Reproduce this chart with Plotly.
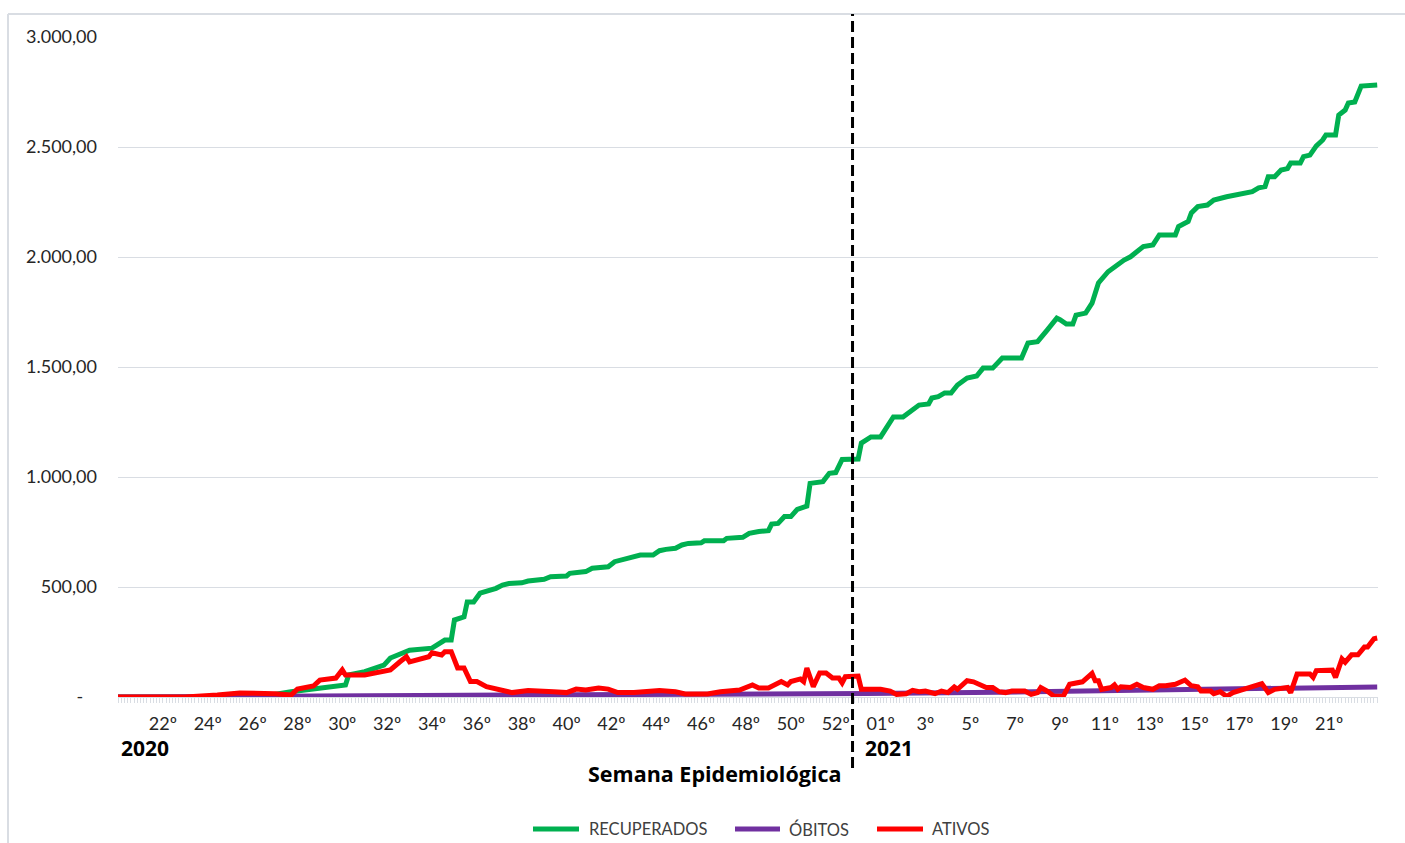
import pandas as pd
import plotly.graph_objects as go

# ---------------- data ----------------
inicio = "2020-05-10"  # first day of the series

dia_recuperados = [0, 44, 54, 62, 71, 72, 77, 83, 85, 91, 98, 102, 104, 105, 108, 109, 111, 113,
                   118, 120, 122, 126, 128, 133, 135, 140, 141, 146, 148, 153, 155, 159, 162, 163, 167, 169,
                   171, 174, 176, 178, 182, 183, 189, 190, 195, 197, 200, 203, 204, 206, 208, 210, 212, 215,
                   216, 220, 222, 224, 226, 231, 232, 235, 238, 240, 242, 245, 248, 250, 253, 254, 256, 258,
                   260, 262, 265, 268, 270, 273, 276, 282, 284, 287, 290, 293, 294, 296, 298, 299, 302, 304,
                   306, 309, 314, 316, 320, 323, 325, 330, 331, 334, 335, 337, 340, 342, 346, 351, 354, 356,
                   358, 359, 361, 363, 365, 366, 369, 370, 372, 374, 376, 377, 380, 381, 383, 384, 386, 388, 393]
recuperados = [0, 0, 24, 41, 55, 100, 115, 145, 177, 213, 222, 259, 259, 350, 364, 432, 432, 472,
               494, 509, 516, 519, 527, 535, 547, 550, 562, 570, 585, 592, 615, 630, 638, 645, 645, 665,
               671, 676, 691, 698, 701, 710, 710, 721, 726, 744, 752, 756, 786, 789, 820, 820, 853, 868,
               971, 979, 1017, 1020, 1080, 1082, 1154, 1182, 1182, 1227, 1273, 1273, 1305, 1327, 1332, 1359,
               1365, 1382, 1382, 1418, 1450, 1459, 1495, 1495, 1541, 1541, 1609, 1615, 1668, 1722, 1715, 1695,
               1695, 1736, 1745, 1790, 1882, 1933, 1986, 2001, 2047, 2055, 2100, 2100, 2138, 2161, 2200, 2229,
               2236, 2259, 2274, 2286, 2297, 2314, 2320, 2365, 2365, 2395, 2402, 2427, 2427, 2456, 2463, 2505,
               2532, 2555, 2555, 2645, 2668, 2700, 2705, 2777, 2782]

dia_obitos = [0, 35, 36, 62, 94, 213, 234, 275, 288, 328, 337, 369, 381, 393]
obitos = [0, 0, 2, 4, 7, 12, 16, 22, 25, 32, 35, 40, 44, 46]

dia_ativos = [0, 21, 31, 38, 49, 54, 56, 61, 63, 68, 70, 71, 77, 82, 85, 88, 90, 91, 94, 97, 98, 101, 102,
              104, 106, 108, 110, 112, 115, 119, 123, 128, 133, 136, 140, 143, 146, 150, 153, 156, 161, 165,
              169, 174, 177, 184, 188, 194, 198, 200, 203, 207, 209, 210, 213, 214, 215, 217, 219, 221, 223,
              225, 226, 227, 230, 231, 232, 238, 241, 243, 246, 248, 250, 252, 255, 257, 259, 261, 262, 265,
              267, 269, 271, 273, 275, 277, 279, 283, 285, 287, 288, 290, 292, 295, 297, 301, 304, 305, 306,
              307, 310, 311, 312, 313, 316, 318, 320, 323, 325, 327, 330, 333, 335, 337, 338, 341, 342, 344,
              346, 348, 351, 355, 357, 359, 361, 365, 366, 368, 372, 373, 374, 379, 380, 382, 383, 385, 387,
              389, 390, 392, 393]
ativos = [0, 0, 9, 18, 15, 9, 36, 50, 77, 86, 123, 100, 100, 115, 123, 160, 183, 160, 170, 183, 201, 191, 206,
          206, 132, 132, 70, 70, 47, 32, 20, 29, 29, 24, 20, 36, 32, 41, 36, 20, 20, 27,
          29, 24, 14, 14, 24, 32, 55, 41, 41, 70, 55, 70, 82, 70, 132, 47, 109, 109, 86,
          86, 64, 92, 92, 95, 35, 35, 27, 12, 15, 30, 24, 27, 15, 27, 20, 46, 35, 74,
          69, 58, 43, 43, 24, 20, 27, 27, 12, 20, 43, 27, 5, 3, 58, 69, 107, 74, 74,
          35, 43, 55, 35, 46, 43, 58, 43, 35, 51, 51, 58, 77, 51, 46, 27, 27, 15, 24,
          3, 20, 35, 51, 61, 20, 35, 43, 20, 105, 105, 89, 120, 122, 89, 173, 158, 192, 192,
          227, 227, 265, 268]

semana_labels = ["22º", "24º", "26º", "28º", "30º", "32º", "34º", "36º", "38º", "40º", "42º", "44º",
                 "46º", "48º", "50º", "52º", "01º", "3º", "5º", "7º", "9º", "11º", "13º", "15º",
                 "17º", "19º", "21º"]
semana_datas = ["2020-05-24", "2020-06-07", "2020-06-21", "2020-07-05", "2020-07-19", "2020-08-02",
                "2020-08-16", "2020-08-30", "2020-09-13", "2020-09-27", "2020-10-11", "2020-10-25",
                "2020-11-08", "2020-11-22", "2020-12-06", "2020-12-20", "2021-01-03", "2021-01-17",
                "2021-01-31", "2021-02-14", "2021-02-28", "2021-03-14", "2021-03-28", "2021-04-11",
                "2021-04-25", "2021-05-09", "2021-05-23"]

y_ticks = [0, 500, 1000, 1500, 2000, 2500, 3000]
y_labels = ["-\u00a0\u00a0\u00a0", "500,00", "1.000,00", "1.500,00", "2.000,00", "2.500,00", "3.000,00"]

virada_ano = "2020-12-25 06:00"

# ---------------- figure ----------------
t0 = pd.Timestamp(inicio)
def to_dates(days):
    return [t0 + pd.Timedelta(days=d) for d in days]

GREEN, PURPLE, RED = "#00B050", "#7030A0", "#FF0000"
GRID = "#D9DDE3"
FONT = "Lato, 'Open Sans', sans-serif"
BOLD_FONT = "'Open Sans', Lato, sans-serif"

fig = go.Figure()
fig.add_trace(go.Scatter(x=to_dates(dia_recuperados), y=recuperados, mode="lines", name="RECUPERADOS",
                         line=dict(color=GREEN, width=5), showlegend=False))
fig.add_trace(go.Scatter(x=to_dates(dia_obitos), y=obitos, mode="lines", name="ÓBITOS",
                         line=dict(color=PURPLE, width=5), showlegend=False))
fig.add_trace(go.Scatter(x=to_dates(dia_ativos), y=ativos, mode="lines", name="ATIVOS",
                         line=dict(color=RED, width=5), showlegend=False))

x_end = t0 + pd.Timedelta(days=max(dia_ativos)) + pd.Timedelta(hours=6)

fig.update_layout(
    width=1405, height=843,
    margin=dict(l=118, r=27, t=37, b=146),
    paper_bgcolor="white", plot_bgcolor="white",
    font=dict(family=FONT, size=18, color="#262626"),
    xaxis=dict(
        type="date", range=[t0, x_end],
        tickmode="array", tickvals=semana_datas, ticktext=semana_labels,
        ticks="outside", ticklen=5, tickcolor=GRID, tickwidth=1,
        showgrid=False, showline=True, linecolor=GRID, linewidth=1,
        tickfont=dict(family=FONT, size=18, color="#262626"),
        ticklabelstandoff=5,
        minor=dict(ticks="outside", ticklen=5, tickcolor=GRID, tickwidth=1,
                   tickmode="linear", tick0=inicio, dtick=86400000, showgrid=False),
        zeroline=False, fixedrange=True,
    ),
    yaxis=dict(
        range=[0, 3000], tickmode="array", tickvals=y_ticks, ticktext=y_labels,
        showgrid=True, gridcolor=GRID, gridwidth=1, zeroline=False, showline=False,
        ticks="", ticklabelstandoff=20,
        tickfont=dict(family=FONT, size=18, color="#262626"),
    ),
)

def px_x(px):
    return (px - 118) / 1260.0

def px_y(py):
    return (697 - py) / 660.0

shapes = []
# outer frame (left and top borders)
shapes.append(dict(type="line", xref="paper", yref="paper", x0=px_x(8), x1=px_x(8), y0=px_y(14), y1=px_y(860),
                   line=dict(color=GRID, width=2)))
shapes.append(dict(type="line", xref="paper", yref="paper", x0=px_x(8), x1=px_x(1410), y0=px_y(14), y1=px_y(14),
                   line=dict(color=GRID, width=2)))
# dashed year divider
shapes.append(dict(type="line", xref="x", yref="paper", x0=virada_ano, x1=virada_ano, y0=px_y(768), y1=px_y(14),
                   line=dict(color="black", width=3, dash="11px,5px")))

# custom legend
legend_items = [("RECUPERADOS", GREEN, 533, 579, 587), ("ÓBITOS", PURPLE, 735, 780, 787), ("ATIVOS", RED, 877, 923, 930)]
annotations = []
for name, col, a, b, t in legend_items:
    shapes.append(dict(type="line", xref="paper", yref="paper", x0=px_x(a), x1=px_x(b), y0=px_y(829), y1=px_y(829),
                       line=dict(color=col, width=5)))
    annotations.append(dict(text=name, xref="paper", yref="paper", x=px_x(t), y=px_y(829), xanchor="left",
                            yanchor="middle", showarrow=False, font=dict(family=FONT, size=16.5, color="#404040")))

annotations.append(dict(text="<b>2020</b>", xref="paper", yref="paper", x=px_x(119), y=px_y(748), xanchor="left",
                        yanchor="middle", showarrow=False, font=dict(family=BOLD_FONT, size=21, color="black")))
annotations.append(dict(text="<b>2021</b>", xref="paper", yref="paper", x=px_x(863), y=px_y(748), xanchor="left",
                        yanchor="middle", showarrow=False, font=dict(family=BOLD_FONT, size=21, color="black")))
annotations.append(dict(text="<b>Semana Epidemiológica</b>", xref="paper", yref="paper", x=px_x(714), y=px_y(773),
                        xanchor="center", yanchor="middle", showarrow=False,
                        font=dict(family=BOLD_FONT, size=21.5, color="black")))

fig.update_layout(shapes=shapes, annotations=annotations)

fig.write_html("out.html", config={"displayModeBar": False},
               post_script="document.body.style.margin='0px';document.body.style.overflow='hidden';")
